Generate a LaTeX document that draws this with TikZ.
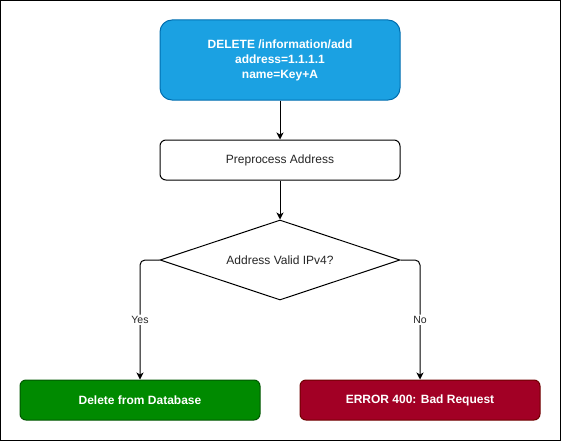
\documentclass[tikz,border=0pt]{standalone}
\usepackage{fontspec}
\setmainfont{Liberation Sans}
\usetikzlibrary{shapes.geometric,arrows.meta}
\definecolor{bluefill}{HTML}{1BA1E2}
\definecolor{bluestroke}{HTML}{006EAF}
\definecolor{greenfill}{HTML}{008A00}
\definecolor{greenstroke}{HTML}{005700}
\definecolor{redfill}{HTML}{A20025}
\definecolor{redstroke}{HTML}{6F0000}
\tikzset{
  boxbase/.style={rectangle, inner sep=0pt, minimum width=240pt, line width=1pt, font=\fontsize{12}{15}\selectfont, align=center},
  bluebox/.style={boxbase, minimum height=80pt, rounded corners=12pt, fill=bluefill, draw=bluestroke, text=white, font=\fontsize{12}{15}\selectfont\bfseries},
  plainbox/.style={boxbase, minimum height=40pt, rounded corners=6pt, fill=white, draw=black, text=black!85},
  greenbox/.style={boxbase, minimum height=40pt, rounded corners=6pt, fill=greenfill, draw=greenstroke, text=white, font=\fontsize{12}{15}\selectfont\bfseries},
  redbox/.style={boxbase, minimum height=40pt, rounded corners=6pt, fill=redfill, draw=redstroke, text=white, font=\fontsize{12}{15}\selectfont\bfseries},
  decision/.style={diamond, aspect=3, inner sep=0pt, minimum width=240pt, minimum height=80pt, draw=black, line width=1pt, fill=white, text=black!85, font=\fontsize{12}{15}\selectfont},
  arr/.style={draw=black, line width=1pt, -{Stealth[length=7pt,width=7pt,inset=2pt]}},
  lbl/.style={fill=white, inner sep=1.5pt, text=black!85, font=\fontsize{10.5}{12}\selectfont}
}
\begin{document}
\begin{tikzpicture}[x=1pt,y=-1pt]
\useasboundingbox (0,0) rectangle (561,441);
\draw[line width=1pt] (0.5,0.5) rectangle (560.5,440.5);
\node[bluebox] (req) at (280,60) {DELETE /information/add\\address=1.1.1.1\\name=Key+A};
\node[plainbox] (pre) at (280,160) {Preprocess Address};
\node[decision] (dec) at (280,260) {Address Valid IPv4?};
\node[greenbox] (del) at (140,400) {Delete from Database};
\node[redbox] (err) at (420,400) {ERROR 400: Bad Request};
\draw[arr] (req) -- (pre);
\draw[arr] (pre) -- (dec);
\draw[arr, rounded corners=5pt] (dec.west) -| (del.north) node[lbl, pos=0.75] {Yes};
\draw[arr, rounded corners=5pt] (dec.east) -| (err.north) node[lbl, pos=0.75] {No};
\end{tikzpicture}
\end{document}
